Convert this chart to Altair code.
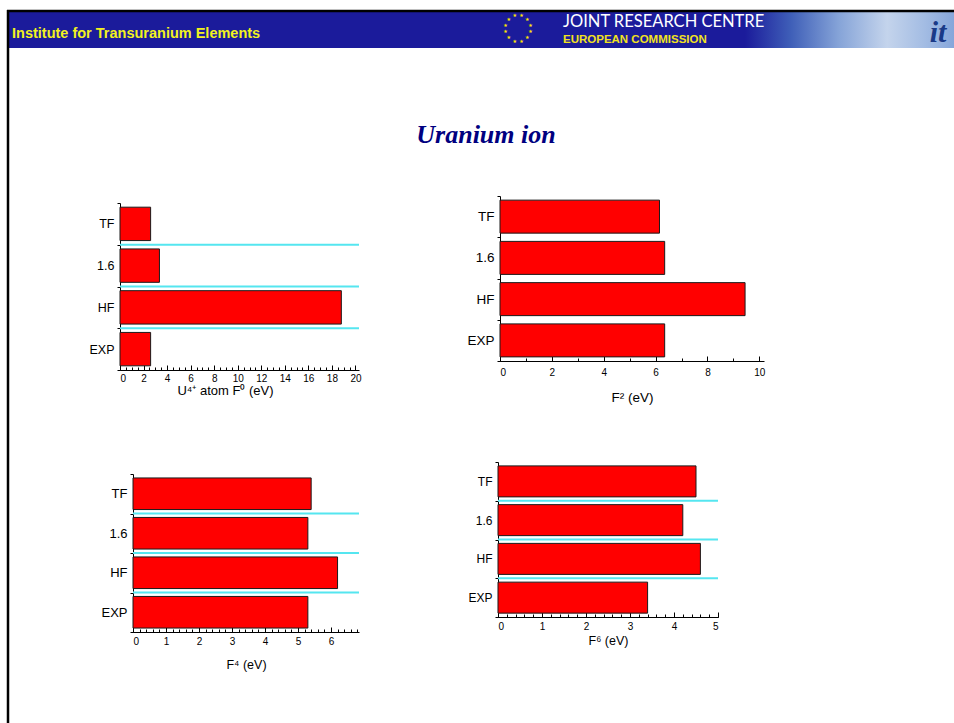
import altair as alt
import pandas as pd

W, H = 954, 723
FONT = "Liberation Sans"

methods = ["TF", "1.6", "HF", "EXP"]

# Slater integrals of the U4+ ion, in eV
f0_values = [2.6, 3.35, 18.8, 2.6]
f2_values = [6.15, 6.35, 9.45, 6.35]
f4_values = [5.4, 5.3, 6.2, 5.3]
f6_values = [4.5, 4.2, 4.6, 3.4]

f0_ticks = [0, 2, 4, 6, 8, 10, 12, 14, 16, 18, 20]
f2_ticks = [0, 2, 4, 6, 8, 10]
f4_ticks = [0, 1, 2, 3, 4, 5, 6]
f6_ticks = [0, 1, 2, 3, 4, 5]

one_row = pd.DataFrame({"k": [0]})


def panel(values, ticks, minor_count, axis_title, x_domain, x_range, y_range,
          label_size, title_size, title_x, title_y, label_pad, separators=True):
    df = pd.DataFrame({"method": methods, "value": values})
    x_scale = alt.Scale(domain=x_domain, range=x_range, nice=False)
    y_scale = alt.Scale(domain=methods, range=y_range, paddingInner=0, paddingOuter=0)
    x_off = y_range[1] - H
    y_off = -x_range[0]

    bars = alt.Chart(df).mark_bar(
        color="#ff0000", stroke="#1a1a1a", strokeWidth=1,
        height=alt.RelativeBandSize(0.8),
    ).encode(
        x=alt.X("value:Q", scale=x_scale, axis=alt.Axis(
            orient="bottom", offset=x_off, values=ticks, title=axis_title,
            tickSize=alt.ExprRef(expr="-5"), labelPadding=label_pad,
            labelFontSize=10, titleFontSize=title_size, titleX=title_x,
            titleY=title_y, titleBaseline="alphabetic", grid=False,
        )),
        y=alt.Y("method:N", scale=y_scale, title=None, axis=alt.Axis(
            orient="left", offset=y_off, tickBand="extent", tickSize=3,
            labelPadding=3, labelFontSize=label_size, labelAngle=0, grid=False,
        )),
    )

    minor = alt.Chart(df).mark_point(opacity=0).encode(
        x=alt.X("value:Q", scale=x_scale, axis=alt.Axis(
            orient="bottom", offset=x_off, tickCount=minor_count, labels=False,
            domain=False, title=None, grid=False, tickSize=alt.ExprRef(expr="-3"),
        )),
    )

    layers = [minor, bars]
    if separators:
        rules = alt.Chart(pd.DataFrame({"method": methods[1:]})).mark_rule(
            color="#55e6f0", strokeWidth=1.8
        ).encode(
            y=alt.Y("method:N", scale=y_scale, bandPosition=0, axis=None),
            x=alt.X(datum=x_domain[0], type="quantitative", scale=x_scale, axis=None),
            x2=alt.X2(datum=x_domain[1]),
        )
        layers = [rules] + layers
    return layers


# slide header
header_band = alt.Chart(one_row).mark_rect(color="#1b1b9b").encode(
    x=alt.value(9), x2=alt.value(W), y=alt.value(12), y2=alt.value(48))

sky = alt.Chart(one_row).mark_rect(
    color=alt.Gradient(
        gradient="linear", x1=0, x2=1, y1=0, y2=0,
        stops=[
            alt.GradientStop(color="#1b1b9b", offset=0),
            alt.GradientStop(color="#3f5fb8", offset=0.22),
            alt.GradientStop(color="#86a4d8", offset=0.45),
            alt.GradientStop(color="#c4d4ec", offset=0.68),
            alt.GradientStop(color="#a3bce3", offset=0.86),
            alt.GradientStop(color="#86a6da", offset=1),
        ],
    )
).encode(x=alt.value(745), x2=alt.value(W), y=alt.value(12), y2=alt.value(48))

frame_top = alt.Chart(one_row).mark_rule(color="#000000", strokeWidth=2.5).encode(
    x=alt.value(7), x2=alt.value(W), y=alt.value(11))
frame_left = alt.Chart(one_row).mark_rule(color="#000000", strokeWidth=2.5).encode(
    x=alt.value(8), y=alt.value(10), y2=alt.value(H))

institute = alt.Chart(one_row).mark_text(
    text="Institute for Transuranium Elements", font=FONT, fontSize=14.5,
    fontWeight="bold", color="#f2f21e", align="left", baseline="alphabetic",
).encode(x=alt.value(12), y=alt.value(38))

stars = alt.Chart(pd.DataFrame({"star": list(range(12)), "share": [1] * 12})).mark_text(
    text="★", font="DejaVu Sans", fontSize=5, color="#ffe800",
).encode(
    theta=alt.Theta("share:Q", stack=True),
    radius=alt.value(13), x=alt.value(518), y=alt.value(28),
)

jrc = alt.Chart(one_row).mark_text(
    text="JOINT RESEARCH CENTRE", font="Lato", fontSize=16.5, color="#ffffff",
    align="left", baseline="alphabetic",
).encode(x=alt.value(563), y=alt.value(27))

commission = alt.Chart(one_row).mark_text(
    text="EUROPEAN  COMMISSION", font=FONT, fontSize=11.5, fontWeight="bold",
    color="#f2e21e", align="left", baseline="alphabetic",
).encode(x=alt.value(563), y=alt.value(43))

logo = alt.Chart(one_row).mark_text(
    text="it", font="Liberation Serif", fontSize=30, fontStyle="italic",
    fontWeight="bold", color="#1a3a88", align="center", baseline="alphabetic",
).encode(x=alt.value(938), y=alt.value(42))

title = alt.Chart(one_row).mark_text(
    text="Uranium ion", font="Liberation Serif", fontSize=26, fontStyle="italic",
    fontWeight="bold", color="#000080", align="center", baseline="alphabetic",
).encode(x=alt.value(486), y=alt.value(143))

panels = []
panels += panel(f0_values, f0_ticks, 40, "U⁴⁺ atom  F⁰ (eV)", [0, 20.3], [120, 359],
                [203, 370], 12.5, 13, 225, 24, 8)
panels += panel(f2_values, f2_ticks, 10, "F² (eV)", [0, 10.18], [500, 764],
                [196, 361], 13.5, 13.5, 632, 40, 11, separators=False)
panels += panel(f4_values, f4_ticks, 34, "F⁴ (eV)", [0, 6.85], [133, 359],
                [474, 632], 13, 12.5, 246, 36, 9)
panels += panel(f6_values, f6_ticks, 25, "F⁶ (eV)", [0, 5], [498, 718],
                [462, 617], 12, 12.5, 608, 27, 9)

chart = alt.layer(
    header_band, sky, frame_top, frame_left, institute, stars, jrc, commission,
    logo, title, *panels,
).resolve_scale(
    x="independent", y="independent"
).resolve_axis(
    x="independent", y="independent"
).properties(
    width=W, height=H, padding=0, autosize="none", background="#ffffff",
).configure_view(
    stroke=None
).configure_axis(
    labelFont=FONT, titleFont=FONT, labelColor="#000000", titleColor="#000000",
    domainColor="#000000", tickColor="#000000", titleFontWeight="normal",
    domainWidth=1, tickWidth=1,
)

chart.save("out.html", embed_options={"renderer": "svg", "actions": False})
